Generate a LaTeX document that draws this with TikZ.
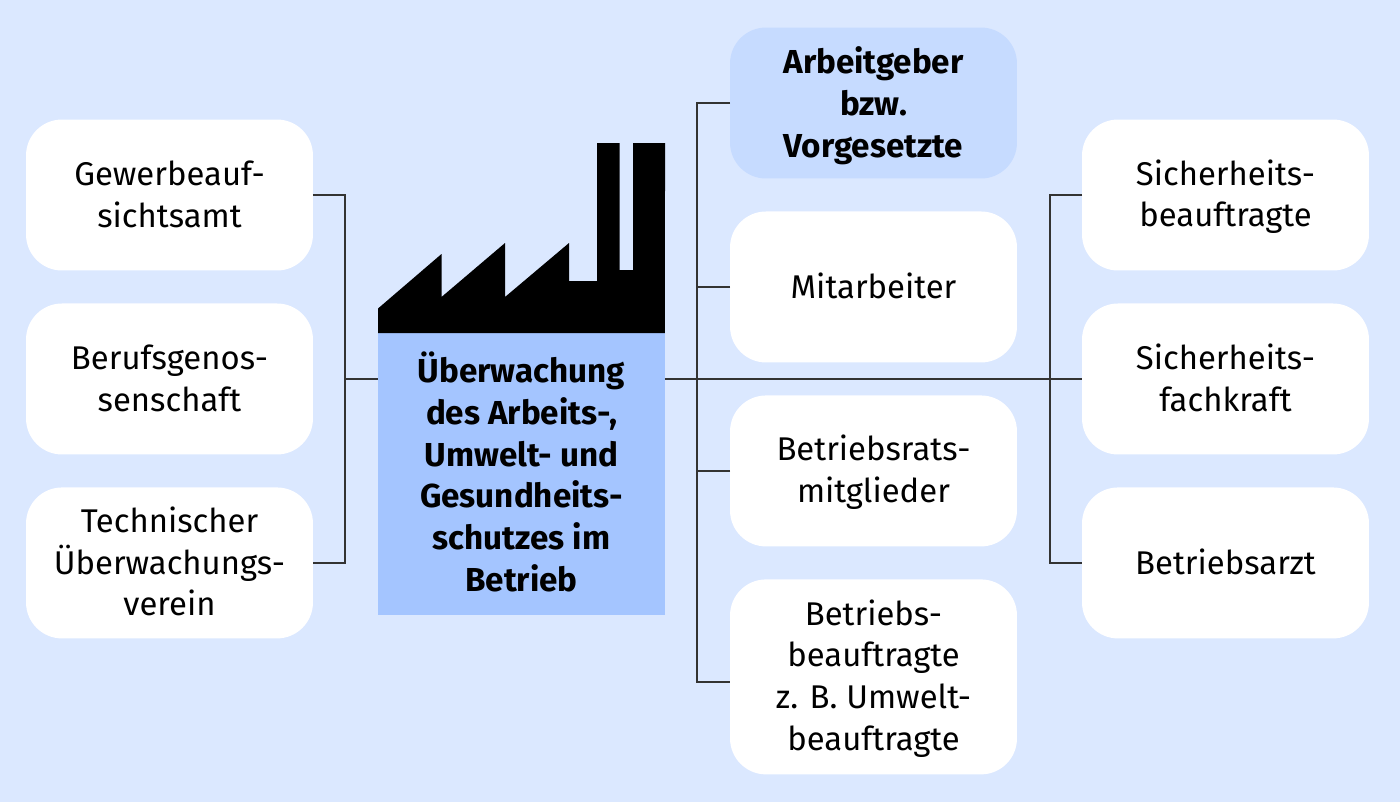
\documentclass[tikz,border=0pt]{standalone}
\usepackage{fontspec}
\setmainfont{Fira Sans}
\usepackage{tikz}
\usetikzlibrary{positioning}

\definecolor{pagebg}{HTML}{DBE8FF}
\definecolor{bosslight}{HTML}{C6DBFF}
\definecolor{hallblue}{HTML}{A4C5FF}
\definecolor{linegray}{HTML}{333333}

\newcommand{\rowstrut}{\rule[-3.6pt]{0pt}{20pt}}
\newcommand{\boldstrut}{\rule[-3.6pt]{0pt}{22pt}}

\tikzset{
  party/.style={fill=white, rounded corners=0.72cm, minimum width=5.74cm,
    minimum height=3.02cm, inner sep=0mm, outer sep=0mm, align=center,
    font=\fontsize{18.7}{23.8}\selectfont},
  boldtext/.style={font=\fontsize{18.9}{23.8}\selectfont\bfseries},
  link/.style={draw=linegray, line width=0.85pt}
}

\begin{document}
\begin{tikzpicture}[x=0.02cm,y=-0.02cm]
    \useasboundingbox (0,0) rectangle (1400,802);
    \fill[pagebg] (0,0) rectangle (1400,802);
    %%%%% THE LEFT COLUMN
    \node[party] (GEWERBE) at (169.5,195) {\rowstrut Gewerbeauf-\\sichtsamt\rowstrut};
    \node[party, below=0.66cm of GEWERBE] (BERUF) {\rowstrut Berufsgenos-\\senschaft\rowstrut};
    \node[party, below=0.66cm of BERUF] (TUEV) {\rowstrut Technischer\\Überwachungs-\\verein\rowstrut};
    %%%%% THE MIDDLE COLUMN
    \node[party, boldtext, fill=bosslight] (BOSS) at (873.5,103) {\boldstrut Arbeitgeber\\bzw.\\Vorgesetzte\rowstrut};
    \node[party, below=0.66cm of BOSS] (STAFF) {\rowstrut Mitarbeiter};
    \node[party, below=0.66cm of STAFF] (COUNCIL) {\rowstrut Betriebsrats-\\mitglieder\rowstrut};
    \node[party, below=0.66cm of COUNCIL, minimum height=3.9cm] (OFFICERS) {\rowstrut Betriebs-\\beauftragte\\z. B. Umwelt-\\beauftragte\rowstrut};
    %%%%% THE RIGHT COLUMN
    \node[party] (SAFETY) at (1225.5,195) {\rowstrut Sicherheits-\\beauftragte\rowstrut};
    \node[party, below=0.66cm of SAFETY] (EXPERT) {\rowstrut Sicherheits-\\fachkraft\rowstrut};
    \node[party, below=0.66cm of EXPERT] (DOCTOR) {\rowstrut Betriebsarzt};
    %%%%% THE FACTORY
    \node[party, boldtext, rounded corners=0pt, fill=hallblue, minimum height=5.64cm] (HALL) at (521.5,474)
      {\boldstrut Überwachung\\des Arbeits-,\\Umwelt- und\\Gesundheits-\\schutzes im\\Betrieb\rowstrut};
    \fill[black] (HALL.north west) -- (378,308.5) -- (441.5,254) -- (441.5,297) -- (505,243)
      -- (505,297) -- (569,243) -- (569,281) -- (597,281) -- (597,143) -- (619.5,143)
      -- (619.5,270) -- (633,270) -- (633,143) -- (665,143) -- (HALL.north east) -- cycle;
    %%%% LINKS BETWEEN THE COLUMNS
    \coordinate (LEFTIN) at (HALL.west |- BERUF.east);
    \coordinate (RIGHTOUT) at (HALL.east |- BERUF.east);
    \coordinate (LEFTBUS) at (345,0 |- BERUF.east);
    \coordinate (MIDBUS) at (697,0 |- BERUF.east);
    \coordinate (RIGHTBUS) at (1050,0 |- BERUF.east);
    \coordinate (OFFICERSIN) at (OFFICERS.west |- 0,682);
    \draw[link] (GEWERBE.east) -| (LEFTBUS) |- (TUEV.east);
    \draw[link] (LEFTBUS) -- (LEFTIN);
    \draw[link] (RIGHTOUT) -- (EXPERT.west);
    \draw[link] (BOSS.west) -| (MIDBUS) |- (OFFICERSIN);
    \draw[link] (STAFF.west) -| (MIDBUS);
    \draw[link] (COUNCIL.west) -| (MIDBUS);
    \draw[link] (SAFETY.west) -| (RIGHTBUS) |- (DOCTOR.west);
  \end{tikzpicture}
\end{document}
